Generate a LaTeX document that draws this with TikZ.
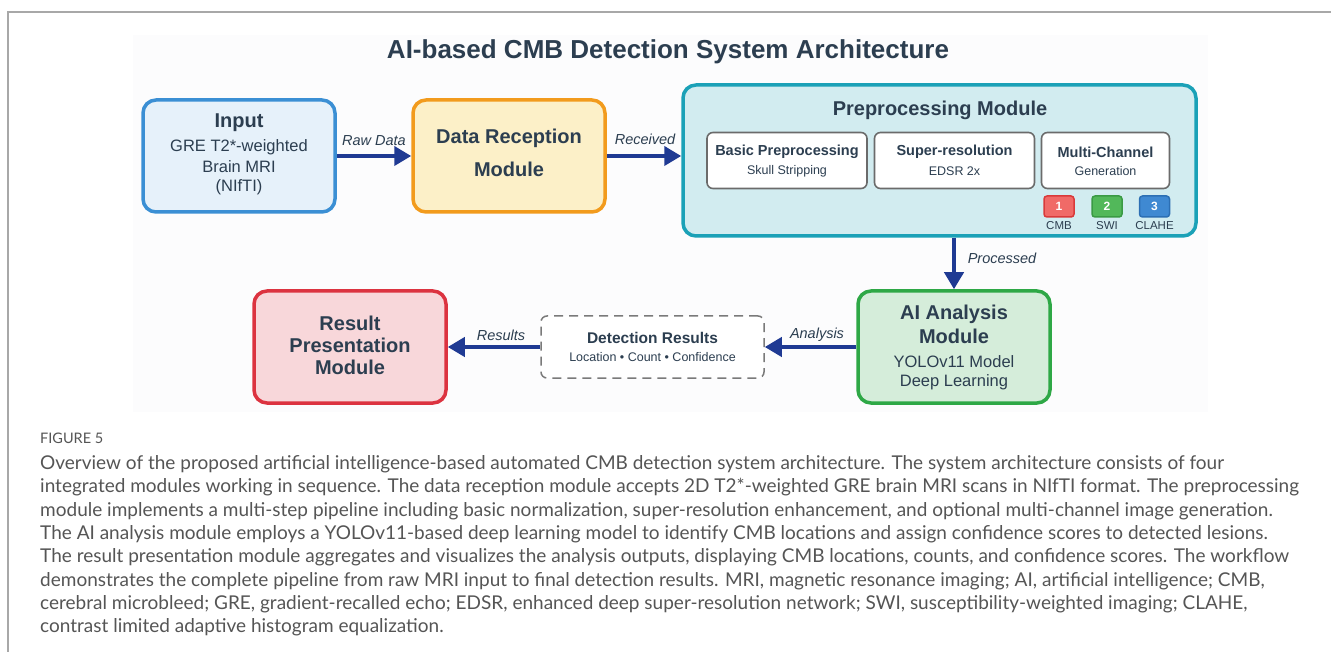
\documentclass[tikz,border=0pt]{standalone}
\usepackage{fontspec}
\setmainfont{Liberation Sans}
\newfontfamily\capfont{Lato}
\usetikzlibrary{arrows.meta}
\definecolor{titlec}{HTML}{2C3E50}
\definecolor{bgc}{HTML}{FCFCFD}
\definecolor{frame}{HTML}{A8A8A8}
\definecolor{inb}{HTML}{3B8FD4}
\definecolor{inf}{HTML}{E6F1FA}
\definecolor{drb}{HTML}{F29B1D}
\definecolor{drf}{HTML}{FCF0C8}
\definecolor{ppb}{HTML}{1BA1B7}
\definecolor{ppf}{HTML}{D2ECF0}
\definecolor{aib}{HTML}{2EA846}
\definecolor{aif}{HTML}{D5EDDA}
\definecolor{rpb}{HTML}{DC3340}
\definecolor{rpf}{HTML}{F8D7DA}
\definecolor{arrc}{HTML}{1F3A93}
\definecolor{subb}{HTML}{6B6B6B}
\definecolor{bdr}{HTML}{F06A67}
\definecolor{bdrb}{HTML}{D93A3A}
\definecolor{bdg}{HTML}{52B85A}
\definecolor{bdgb}{HTML}{3A9A44}
\definecolor{bdb}{HTML}{3F89D2}
\definecolor{bdbb}{HTML}{2C6FB4}
\definecolor{capc}{HTML}{555555}
\definecolor{dashc}{HTML}{7A7A7A}
\tikzset{
  mod/.style={rounded corners=13pt, line width=3.5pt, inner sep=0pt},
  subbox/.style={rounded corners=6pt, line width=1.6pt, draw=subb, fill=white, inner sep=0pt},
  badge/.style={rounded corners=3pt, line width=1.5pt, inner sep=0pt, minimum width=30pt, minimum height=21pt, text=white, font=\bfseries\fontsize{12}{14}\selectfont},
  arr/.style={draw=arrc, line width=4pt, -{Triangle[length=17pt,width=19pt]}},
  alab/.style={font=\itshape\fontsize{14.5}{17}\selectfont, text=titlec, inner sep=0pt},
  big/.style={font=\bfseries\fontsize{20}{24}\selectfont, text=titlec, inner sep=0pt},
  reg/.style={font=\fontsize{16.5}{20}\selectfont, text=titlec, inner sep=0pt},
  subt/.style={font=\bfseries\fontsize{14.5}{17}\selectfont, text=titlec, inner sep=0pt},
  subs/.style={font=\fontsize{12.5}{15}\selectfont, text=titlec, inner sep=0pt},
  bl/.style={font=\fontsize{11.5}{13}\selectfont, text=titlec, inner sep=0pt},
  capl/.style={font=\capfont\fontsize{19}{22}\selectfont, text=capc, anchor=west, inner sep=0pt},
}
\begin{document}
\begin{tikzpicture}[x=1pt,y=-1pt]
\useasboundingbox (0,0) rectangle (1331,652);
\fill[white] (0,0) rectangle (1331,652);
% frame
\draw[frame, line width=1.5pt] (1331,12) -- (8,12) -- (8,652);
% diagram background
\fill[bgc] (133,35) rectangle (1208,412);
% title
\node[font=\bfseries\fontsize{26}{30}\selectfont, text=titlec, inner sep=0pt] (title) at (668,52) {AI-based CMB Detection System Architecture};

% Input
\node[mod, draw=inb, fill=inf, minimum width=192pt, minimum height=112pt] (in) at (239,156) {};
\node[big] at (239,123) {Input};
\node[reg] at (239,147) {GRE T2*-weighted};
\node[reg] at (239,167) {Brain MRI};
\node[reg] at (239,187) {(NIfTI)};

% Data reception
\node[mod, draw=drb, fill=drf, minimum width=192pt, minimum height=112pt] (dr) at (509,156) {};
\node[big] at (509,138) {Data Reception};
\node[big] at (509,169) {Module};

% Preprocessing
\node[mod, draw=ppb, fill=ppf, minimum width=513pt, minimum height=151pt] (pp) at (939.5,160.5) {};
\node[big] at (940,110) {Preprocessing Module};
\node[subbox, minimum width=160pt, minimum height=56pt] (s1) at (787,160.5) {};
\node[subt] at (787,152) {Basic Preprocessing};
\node[subs] at (787,171) {Skull Stripping};
\node[subbox, minimum width=160pt, minimum height=56pt] (s2) at (954.5,160.5) {};
\node[subt] at (954.5,152) {Super-resolution};
\node[subs] at (954.5,171) {EDSR 2x};
\node[subbox, minimum width=128pt, minimum height=56pt] (s3) at (1105.5,160.5) {};
\node[subt] at (1105.5,152) {Multi-Channel};
\node[subs] at (1105.5,171) {Generation};
\node[badge, draw=bdrb, fill=bdr] (b1) at (1059,206.5) {1};
\node[badge, draw=bdgb, fill=bdg] (b2) at (1107,206.5) {2};
\node[badge, draw=bdbb, fill=bdb] (b3) at (1154.5,206.5) {3};
\node[bl] at (1059,225.5) {CMB};
\node[bl] at (1107,225.5) {SWI};
\node[bl] at (1154.5,225.5) {CLAHE};

% AI analysis
\node[mod, draw=aib, fill=aif, minimum width=192pt, minimum height=112pt] (ai) at (954,347) {};
\node[big] at (954,314) {AI Analysis};
\node[big] at (954,336) {Module};
\node[reg] at (954,362) {YOLOv11 Model};
\node[reg] at (954,382) {Deep Learning};

% Detection results
\node[draw=dashc, line width=1.5pt, dash pattern=on 9pt off 6pt, rounded corners=6pt, fill=white, minimum width=223pt, minimum height=62pt, inner sep=0pt] (det) at (652.5,347) {};
\node[font=\bfseries\fontsize{15.5}{18}\selectfont, text=titlec, inner sep=0pt] at (652.5,338) {Detection Results};
\node[font=\fontsize{12.5}{15}\selectfont, text=titlec, inner sep=0pt] at (652.5,357) {Location • Count • Confidence};

% Result presentation
\node[mod, draw=rpb, fill=rpf, minimum width=192pt, minimum height=112pt] (rp) at (350,347) {};
\node[big] at (350,323) {Result};
\node[big] at (350,345) {Presentation};
\node[big] at (350,367) {Module};

% connectors
\draw[arr] (in.east) -- (dr.west);
\node[alab] at (374,141) {Raw Data};
\draw[arr] (dr.east) -- (dr.east -| pp.west);
\node[alab] at (645,139) {Received};
\draw[arr] (ai.north |- pp.south) -- (ai.north);
\node[alab] at (1002,258) {Processed};
\draw[arr] (ai.west) -- (det.east);
\node[alab] at (817,335) {Analysis};
\draw[arr] (det.west) -- (rp.east);
\node[alab] at (501,335) {Results};

% caption
\node[font=\capfont\fontsize{14.5}{16}\selectfont, text=capc, anchor=west, inner sep=0pt] (fig) at (40,438) {FIGURE 5};
\node[capl] (c1) at (40,464) {Overview of the proposed artificial intelligence-based automated CMB detection system architecture. The system architecture consists of four};
\node[capl] (c2) at (40,487.5) {integrated modules working in sequence. The data reception module accepts 2D T2*-weighted GRE brain MRI scans in NIfTI format. The preprocessing};
\node[capl] (c3) at (40,511) {module implements a multi-step pipeline including basic normalization, super-resolution enhancement, and optional multi-channel image generation.};
\node[capl] (c4) at (40,534) {The AI analysis module employs a YOLOv11-based deep learning model to identify CMB locations and assign confidence scores to detected lesions.};
\node[capl] (c5) at (40,557.5) {The result presentation module aggregates and visualizes the analysis outputs, displaying CMB locations, counts, and confidence scores. The workflow};
\node[capl] (c6) at (40,581) {demonstrates the complete pipeline from raw MRI input to final detection results. MRI, magnetic resonance imaging; AI, artificial intelligence; CMB,};
\node[capl] (c7) at (40,604) {cerebral microbleed; GRE, gradient-recalled echo; EDSR, enhanced deep super-resolution network; SWI, susceptibility-weighted imaging; CLAHE,};
\node[capl] (c8) at (40,627.5) {contrast limited adaptive histogram equalization.};
\end{tikzpicture}
\end{document}
